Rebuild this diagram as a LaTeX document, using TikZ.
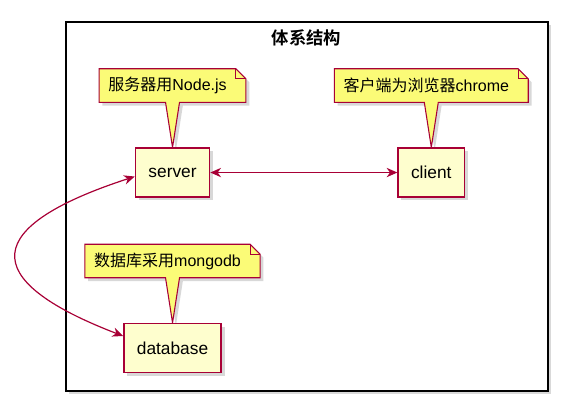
\documentclass[tikz,border=0pt]{standalone}
\usepackage{fontspec}
\setmainfont{Liberation Sans}
\newfontfamily\cjk{Noto Sans CJK SC}[BoldFont=* Bold]
\usetikzlibrary{arrows.meta, positioning, shadows, backgrounds}
\definecolor{umlred}{RGB}{168,0,54}
\definecolor{compfill}{RGB}{254,254,206}
\definecolor{notefill}{RGB}{251,251,119}

% note outline with folded corner and pointer to its component
\newcommand{\notebubble}[2]{%
  \path[notepath] (#1.north west) -- (#1.north east) -- ([xshift=7.5pt, yshift=-7.5pt]#1.north east)
    -- ([xshift=7.5pt]#1.south east) -- ([xshift=9pt]#1.south) -- (#2.north)
    -- ([xshift=-1.5pt]#1.south) -- (#1.south west) -- cycle;
  \draw[umlred, line width=0.8pt] (#1.north east) -- ([yshift=-7.5pt]#1.north east) -- ([xshift=7.5pt, yshift=-7.5pt]#1.north east);
}

\begin{document}
\begin{tikzpicture}[
    comp/.style={rectangle, draw=umlred, fill=compfill, line width=1.1pt, minimum height=36.75pt, inner xsep=9.75pt, font=\fontsize{13}{15}\selectfont, drop shadow={shadow xshift=2.5pt, shadow yshift=-2.5pt, opacity=0.3}},
    note/.style={inner xsep=6.75pt, inner ysep=0pt, minimum height=24.75pt, font=\fontsize{12}{14}\selectfont},
    notepath/.style={draw=umlred, fill=notefill, line width=0.8pt, drop shadow={shadow xshift=2.5pt, shadow yshift=-2.5pt, opacity=0.3}},
    packframe/.style={draw=black, fill=white, line width=1.5pt, minimum width=361.5pt, minimum height=276.75pt, drop shadow={shadow xshift=2.5pt, shadow yshift=-2.5pt, opacity=0.3}},
    link/.style={{Stealth[length=8pt, width=7pt, inset=2.5pt]}-{Stealth[length=8pt, width=7pt, inset=2.5pt]}, line width=0.9pt, color=umlred}
]
\useasboundingbox (0,0) rectangle (440.25pt,-310.5pt);
\node[comp] (server) at (129.4pt,-129.4pt) {server};
\node[comp, right=140.25pt of server] (client) {client};
\node[comp, below=93.75pt of server] (database) {database};
\node[note, above=33.75pt of server, xshift=-3.75pt] (servernote) {{\cjk 服务器用}Node.js};
\node[note, above=33.75pt of client, xshift=-3.75pt] (clientnote) {{\cjk 客户端为浏览器}chrome};
\node[note, above=33.75pt of database, xshift=-3.75pt] (dbnote) {{\cjk 数据库采用}mongodb};
\begin{scope}[on background layer]
\node[packframe] (system) at (229.9pt,-154.9pt) {};
\notebubble{servernote}{server}
\notebubble{clientnote}{client}
\notebubble{dbnote}{database}
\end{scope}
\node[font=\cjk\bfseries\fontsize{13}{15}\selectfont] (title) at ([yshift=-12.75pt]system.north) {体系结构};
\draw[link] (server) -- (client);
\draw[link] ([yshift=-3pt]server.west) to[out=198, in=159, looseness=2.55] ([yshift=9pt]database.west);
\end{tikzpicture}
\end{document}
